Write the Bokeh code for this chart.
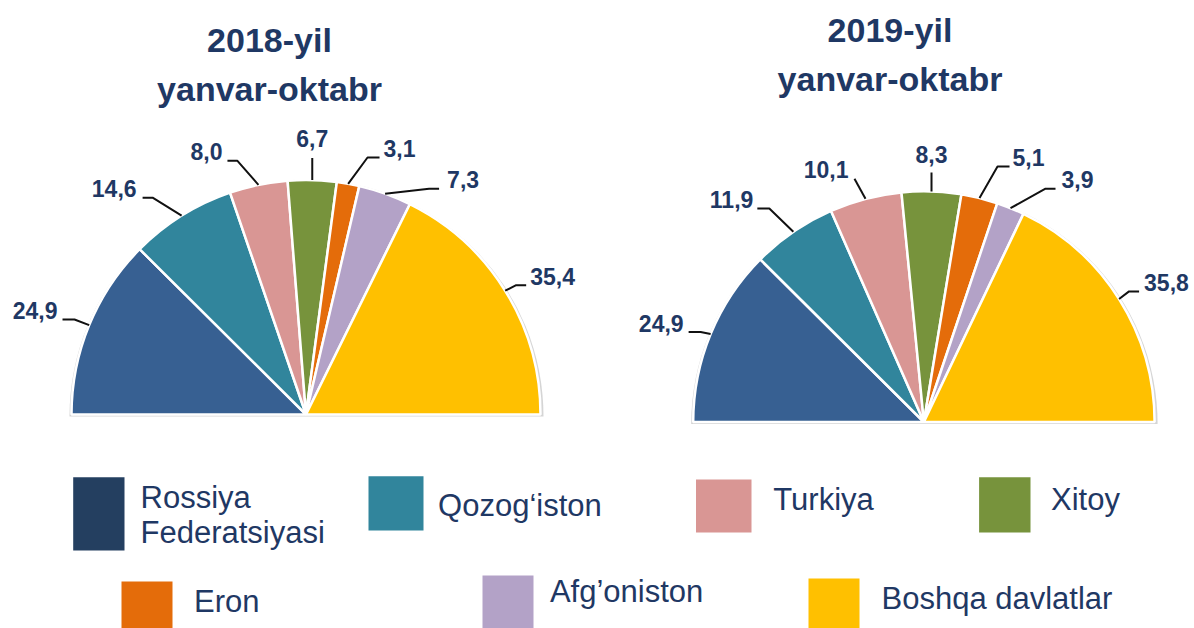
import math
from bokeh.plotting import figure
from bokeh.models import Range1d
from bokeh.core.properties import value
from bokeh.embed import file_html
from bokeh.resources import INLINE

# ---------------- data ----------------
categories = ["Rossiya\nFederatsiyasi", "Qozog\u2018iston", "Turkiya", "Xitoy",
              "Eron", "Afg\u2019oniston", "Boshqa davlatlar"]
values_2018 = [24.9, 14.6, 8.0, 6.7, 3.1, 7.3, 35.4]
values_2019 = [24.9, 11.9, 10.1, 8.3, 5.1, 3.9, 35.8]
labels_2018 = ["24,9", "14,6", "8,0", "6,7", "3,1", "7,3", "35,4"]
labels_2019 = ["24,9", "11,9", "10,1", "8,3", "5,1", "3,9", "35,8"]
title_years = ["2018-yil", "2019-yil"]
title_period = "yanvar-oktabr"

# ---------------- styles ----------------
slice_colors = ["#376092", "#31859C", "#D99694", "#77933C", "#E46C0A", "#B3A2C7", "#FFC000"]
legend_colors = ["#243F60", "#31859C", "#D99694", "#77933C", "#E46C0A", "#B3A2C7", "#FFC000"]
TEXT_COLOR = "#1F3864"
FONT = value("Liberation Sans")
LABEL_SHIFT = 9     # baseline correction (px)
TITLE_SHIFT = 10
LEGEND_SHIFT = 9

# label leader styling (screen px offsets from the arc point)
lead_off_2018 = [(-14.7, -5.6), (-29, -18), (-21, -24), (0, -22), (19.4, -26.3), (44, -5), (11, -5.5)]
lead_h_2018 = [-12, -10, -10, 0, 12, 10, 10]
lead_gap_2018 = [5, 6, 5, 11, 4, 8, 4]
lead_off_2019 = [(-10, -2), (-24, -23.3), (-11, -20), (0, -19), (18, -31.6), (35, -19.5), (10, -7.6)]
lead_h_2019 = [-12, -12, 0, 0, 12, 10, 10]
lead_gap_2019 = [5, 4, 6, 9, 3, 6, 5]

# legend layout (screen px): box (left, top, right, bottom), text x, baselines
legend_boxes = [(72.7, 476.7, 124, 550), (368, 475.7, 423, 530), (695.5, 479, 751, 532),
                (978.6, 476.7, 1030, 532), (121, 581, 172, 630), (482, 575, 533, 630),
                (808, 578, 859, 630)]
legend_text_x = [140, 437.6, 772.8, 1050.5, 193.6, 549.4, 881]
legend_text_y = [[506, 541], [514], [508], [508], [610], [600], [607]]

PAGE_W = 1194
PAGE_H = 628


def Y(sy):
    return PAGE_H - sy


p = figure(width=PAGE_W, height=PAGE_H, x_range=Range1d(0, PAGE_W), y_range=Range1d(0, PAGE_H),
           output_backend="svg", toolbar_location=None, min_border=0,
           min_border_left=0, min_border_right=0, min_border_top=0, min_border_bottom=0)
p.axis.visible = False
p.grid.visible = False
p.outline_line_color = None
p.background_fill_color = "white"
p.border_fill_color = "white"


def draw_pie(cx_s, cy_s, r, vals, labels, offs, hsegs, gaps):
    cx, cy = cx_s, Y(cy_s)
    total = float(sum(vals))
    starts, ends, mids = [], [], []
    cum = 0.0
    for v in vals:
        a0 = math.pi * (1 - (cum + v) / total)
        a1 = math.pi * (1 - cum / total)
        starts.append(a0)
        ends.append(a1)
        mids.append((a0 + a1) / 2)
        cum += v
    # soft shadow / outline
    p.wedge(x=cx + 0.5, y=cy - 2, radius=r + 2.5, start_angle=0, end_angle=math.pi,
            direction="anticlock", fill_color="#D5D5D5", line_color=None)
    p.wedge(x=[cx] * len(vals), y=[cy] * len(vals), radius=r,
            start_angle=starts, end_angle=ends, direction="anticlock",
            fill_color=slice_colors, line_color="white", line_width=2.5)
    xs, ys = [], []
    for i, m in enumerate(mids):
        ax = cx + r * math.cos(m)
        ay = cy + r * math.sin(m)
        dx, dy = offs[i]
        ex, ey = ax + dx, ay - dy
        hx = ex + hsegs[i]
        xs.append([ax, ex, hx])
        ys.append([ay, ey, ey])
        if dx == 0 and hsegs[i] == 0:
            tx, ty, al = ex, ey + gaps[i], "center"
        elif hsegs[i] < 0 or (hsegs[i] == 0 and dx < 0):
            tx, ty, al = hx - gaps[i], ey, "right"
        else:
            tx, ty, al = hx + gaps[i], ey, "left"
        p.text(x=[tx], y=[ty + LABEL_SHIFT], text=[labels[i]], text_align=al,
               text_baseline="alphabetic", text_font=FONT, text_font_style="bold",
               text_font_size="23px", text_color=TEXT_COLOR)
    p.multi_line(xs=xs, ys=ys, line_color="#111111", line_width=2)


draw_pie(305.5, 414, 234.5, values_2018, labels_2018, lead_off_2018, lead_h_2018, lead_gap_2018)
draw_pie(923.4, 421.5, 230.7, values_2019, labels_2019, lead_off_2019, lead_h_2019, lead_gap_2019)

# titles
for tx, b1, b2, yr in [(269, 49.5, 98.5, title_years[0]), (889.5, 39.5, 88.5, title_years[1])]:
    p.text(x=[tx, tx], y=[Y(b1) + TITLE_SHIFT, Y(b2) + TITLE_SHIFT], text=[yr, title_period],
           text_align="center", text_baseline="alphabetic", text_font=FONT,
           text_font_style="bold", text_font_size="34px", text_color=TEXT_COLOR)

# legend
p.quad(left=[b[0] for b in legend_boxes], right=[b[2] for b in legend_boxes],
       top=[Y(b[1]) for b in legend_boxes], bottom=[Y(b[3]) for b in legend_boxes],
       fill_color=legend_colors, line_color=None)
lx, ly, lt = [], [], []
for i, name in enumerate(categories):
    for j, part in enumerate(name.split("\n")):
        lx.append(legend_text_x[i])
        ly.append(Y(legend_text_y[i][j]) + LEGEND_SHIFT)
        lt.append(part)
p.text(x=lx, y=ly, text=lt, text_align="left", text_baseline="alphabetic",
       text_font=FONT, text_font_size="31px", text_color=TEXT_COLOR)

open("out.html", "w").write(file_html(p, INLINE))
